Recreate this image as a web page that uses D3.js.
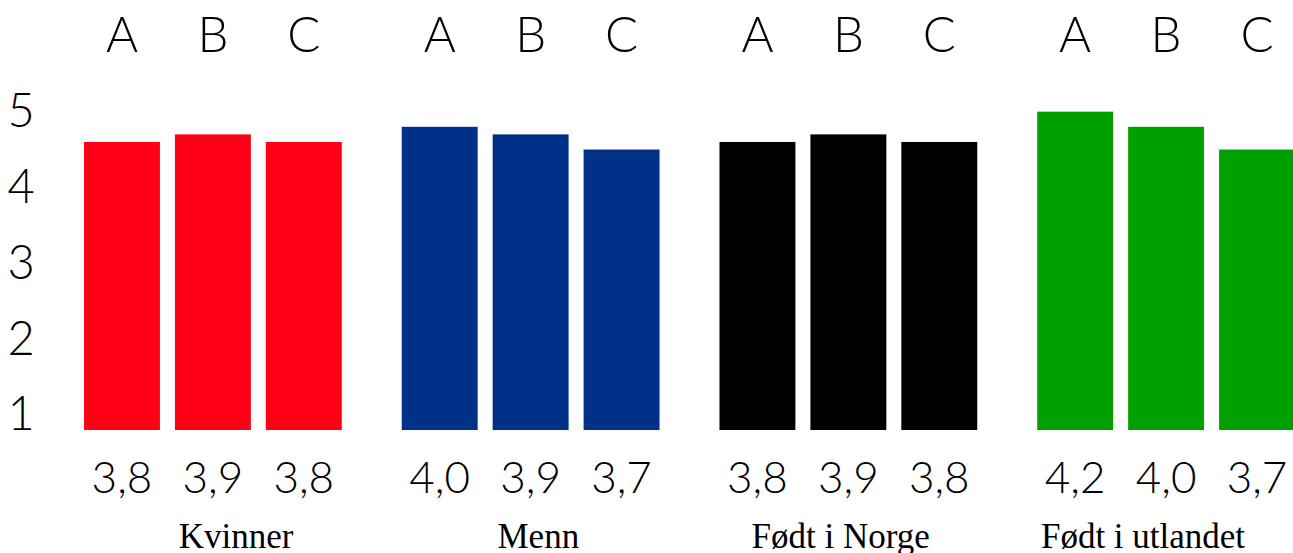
<!DOCTYPE html>
<html>
<head>
<meta charset="utf-8">
<script src="https://cdn.jsdelivr.net/npm/d3@7"></script>
<style>
  html, body { margin: 0; padding: 0; background: #fff; overflow: hidden; }
  svg { display: block; }
</style>
</head>
<body>
<svg id="chart" width="1293" height="553"></svg>
<script>
// Groups, sub-categories and their scores
const groups = ["Kvinner", "Menn", "Født i Norge", "Født i utlandet"];
const subCategories = ["A", "B", "C"];
const kvinner = [3.8, 3.9, 3.8];
const menn = [4.0, 3.9, 3.7];
const norge = [3.8, 3.9, 3.8];
const utlandet = [4.2, 4.0, 3.7];
const groupColors = ["#ff0016", "#003087", "#000000", "#00a000"];
const yTickLabels = [1, 2, 3, 4, 5];

const seriesByGroup = [kvinner, menn, norge, utlandet];
const rows = [];
groups.forEach((g, gi) => {
  subCategories.forEach((c, ci) => {
    rows.push({ group: g, cat: c, value: seriesByGroup[gi][ci], color: groupColors[gi] });
  });
});

const svg = d3.select("#chart");
const sansFont = "Lato, 'Open Sans', sans-serif";
const serifFont = "'Liberation Serif', 'DejaVu Serif', serif";

// Scales
const x0 = d3.scaleBand().domain(groups).range([84, 1295]).paddingInner(0.1887).paddingOuter(0);
const x1 = d3.scaleBand().domain(subCategories).range([0, x0.bandwidth()]).paddingInner(0.165).paddingOuter(0);
const y = d3.scaleLinear().domain([0, 5]).range([430, 51]);
const yLabelScale = d3.scaleLinear().domain([1, 5]).range([413, 110]);
// Group captions sit on their own evenly spaced row
const xCaption = d3.scalePoint().domain(groups).range([236, 1143]);

// Bars
const g = svg.append("g");
g.selectAll("rect.bar")
  .data(rows)
  .join("rect")
  .attr("class", "bar")
  .attr("x", d => x0(d.group) + x1(d.cat))
  .attr("y", d => y(d.value))
  .attr("width", x1.bandwidth())
  .attr("height", d => y(0) - y(d.value))
  .attr("fill", d => d.color);

// Sub-category letters above each bar
g.selectAll("text.cat")
  .data(rows)
  .join("text")
  .attr("class", "cat")
  .attr("x", d => x0(d.group) + x1(d.cat) + x1.bandwidth() / 2)
  .attr("y", 52)
  .attr("text-anchor", "middle")
  .attr("font-family", sansFont)
  .attr("font-weight", 300)
  .attr("font-size", 49)
  .attr("fill", "#000")
  .text(d => d.cat);

// Value labels below bars
const fmt = v => d3.format(".1f")(v).replace(".", ",");
g.selectAll("text.val")
  .data(rows)
  .join("text")
  .attr("class", "val")
  .attr("x", d => x0(d.group) + x1(d.cat) + x1.bandwidth() / 2)
  .attr("y", 493)
  .attr("text-anchor", "middle")
  .attr("font-family", sansFont)
  .attr("font-weight", 300)
  .attr("font-size", 44)
  .attr("fill", "#000")
  .text(d => fmt(d.value));

// Group names
g.selectAll("text.grp")
  .data(groups)
  .join("text")
  .attr("class", "grp")
  .attr("x", d => xCaption(d))
  .attr("y", 548)
  .attr("text-anchor", "middle")
  .attr("font-family", serifFont)
  .attr("font-size", 35)
  .attr("fill", "#000")
  .text(d => d);

// Y axis labels
const yAxis = d3.axisLeft(yLabelScale).tickValues(yTickLabels).tickSize(0).tickPadding(0).tickFormat(d3.format("d"));
const yg = svg.append("g").attr("transform", "translate(33,0)").call(yAxis);
yg.select(".domain").remove();
yg.selectAll("text")
  .attr("font-family", sansFont)
  .attr("font-weight", 300)
  .attr("font-size", 47)
  .attr("fill", "#000")
  .attr("text-anchor", "middle")
  .attr("x", -12)
  .attr("dy", "0.36em");
</script>
</body>
</html>
